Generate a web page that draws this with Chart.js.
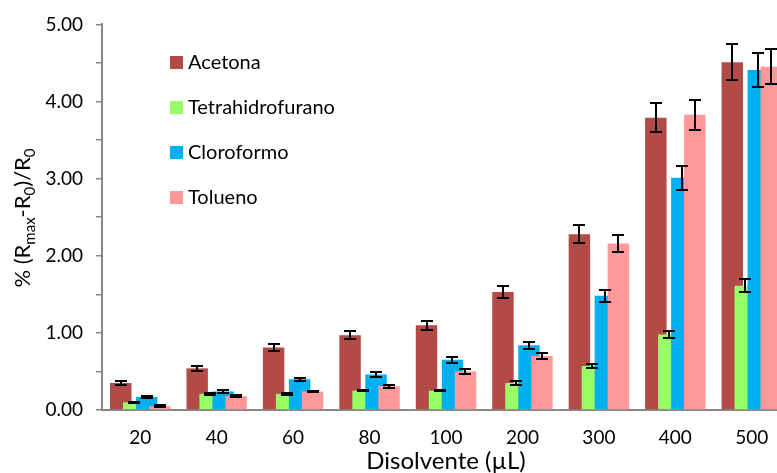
<!DOCTYPE html>
<html>
<head>
<meta charset="utf-8">
<script src="https://cdn.jsdelivr.net/npm/chart.js@4"></script>
<style>
html,body{margin:0;padding:0;background:#fff;overflow:hidden}
#wrap{width:792px;height:473px}
</style>
</head>
<body>
<div id="wrap"><canvas id="chart" width="792" height="473"></canvas></div>
<script>
// datos
const categories = ['20','40','60','80','100','200','300','400','500'];
const acetona       = [0.35,0.54,0.81,0.97,1.10,1.53,2.28,3.79,4.51];
const acetonaErr    = [0.02,0.035,0.04,0.055,0.06,0.08,0.12,0.19,0.23];
const thf           = [0.10,0.21,0.21,0.25,0.25,0.35,0.57,0.98,1.61];
const thfErr        = [0.01,0.01,0.01,0.01,0.01,0.02,0.03,0.05,0.085];
const cloroformo    = [0.17,0.24,0.40,0.46,0.65,0.84,1.48,3.01,4.41];
const cloroformoErr = [0.01,0.015,0.02,0.03,0.035,0.045,0.08,0.155,0.22];
const tolueno       = [0.05,0.18,0.24,0.31,0.50,0.70,2.16,3.83,4.45];
const toluenoErr    = [0.01,0.01,0.01,0.02,0.03,0.04,0.11,0.195,0.225];

const FONT = 'Lato';
Chart.defaults.font.family = FONT;
Chart.defaults.color = '#000';

// barras solapadas: la serie posterior queda encima (como Excel) + barras de error
const errorBars = {
    id:'errorBars',
    beforeDatasetsDraw(chart){
        chart.data.datasets.forEach((ds,i)=>{ const m=chart.getDatasetMeta(i); if(!m.hidden) m.controller.draw(); });
        const ctx=chart.ctx, y=chart.scales.y;
        ctx.save(); ctx.strokeStyle='#000'; ctx.lineWidth=2;
        chart.data.datasets.forEach((ds,i)=>{
            chart.getDatasetMeta(i).data.forEach((bar,j)=>{
                const v=ds.data[j], e=ds.err[j];
                const t=Math.round(y.getPixelForValue(v+e)), b=Math.round(y.getPixelForValue(v-e)), x=Math.round(bar.x);
                ctx.beginPath();
                ctx.moveTo(x,t); ctx.lineTo(x,b);
                ctx.moveTo(x-6,t); ctx.lineTo(x+6,t);
                ctx.moveTo(x-6,b); ctx.lineTo(x+6,b);
                ctx.stroke();
            });
        });
        ctx.restore();
        return false;
    }
};

// leyenda dentro del área, vertical
const sideLegend = {
    id:'sideLegend',
    afterDraw(chart){
        const ctx=chart.ctx;
        ctx.save();
        ctx.font='20px '+FONT; ctx.textBaseline='middle';
        chart.data.datasets.forEach((ds,i)=>{
            const yy=62+i*45;
            ctx.fillStyle=ds.backgroundColor; ctx.fillRect(170,yy-6,13,13);
            ctx.fillStyle='#000'; ctx.fillText(ds.label,188,yy+1);
        });
        ctx.restore();
    }
};

// título eje Y con subíndices
const yTitleParts = [['% (R',0],['max',1],['-R',0],['0',1],[')/R',0],['0',1]];
const yTitle = {
    id:'yTitle',
    afterDraw(chart){
        const ctx=chart.ctx, big='22px '+FONT, small='15px '+FONT;
        ctx.save();
        let w=0;
        yTitleParts.forEach(([s,sub])=>{ ctx.font=sub?small:big; w+=ctx.measureText(s).width; });
        ctx.translate(23,218); ctx.rotate(-Math.PI/2);
        ctx.textBaseline='alphabetic'; ctx.fillStyle='#000';
        let x=-w/2;
        yTitleParts.forEach(([s,sub])=>{
            ctx.font=sub?small:big;
            ctx.fillText(s,x,sub?12:7);
            x+=ctx.measureText(s).width;
        });
        ctx.restore();
    }
};

new Chart(document.getElementById('chart'),{
    type:'bar',
    data:{
        labels:categories,
        datasets:[
            {label:'Acetona',data:acetona,err:acetonaErr,backgroundColor:'#b24a48'},
            {label:'Tetrahidrofurano',data:thf,err:thfErr,backgroundColor:'#99ff66'},
            {label:'Cloroformo',data:cloroformo,err:cloroformoErr,backgroundColor:'#00b0f0'},
            {label:'Tolueno',data:tolueno,err:toluenoErr,backgroundColor:'#ff9999'}
        ]
    },
    options:{
        responsive:false, animation:false,
        categoryPercentage:0.68, barPercentage:1.65,
        layout:{padding:{top:24,right:2,left:0,bottom:0}},
        plugins:{legend:{display:false}, tooltip:{enabled:false}},
        scales:{
            x:{
                grid:{display:false, drawTicks:false},
                border:{color:'#888', width:2},
                ticks:{font:{size:19}, padding:16},
                title:{display:true, text:'Disolvente (µL)', font:{size:24, lineHeight:1}, padding:{top:0,bottom:0}},
                afterFit(s){ s.height=63; }
            },
            y:{
                min:0, max:5,
                grid:{drawOnChartArea:false, drawTicks:true, tickLength:6, color:'#888', lineWidth:1.5},
                border:{color:'#888', width:2},
                ticks:{stepSize:0.5, font:{size:19}, padding:13,
                    callback:v=> Math.abs(v-Math.round(v))<1e-9 ? v.toFixed(2) : ''},
                afterFit(s){ s.width=102; }
            }
        }
    },
    plugins:[errorBars, sideLegend, yTitle]
});
</script>
</body>
</html>
